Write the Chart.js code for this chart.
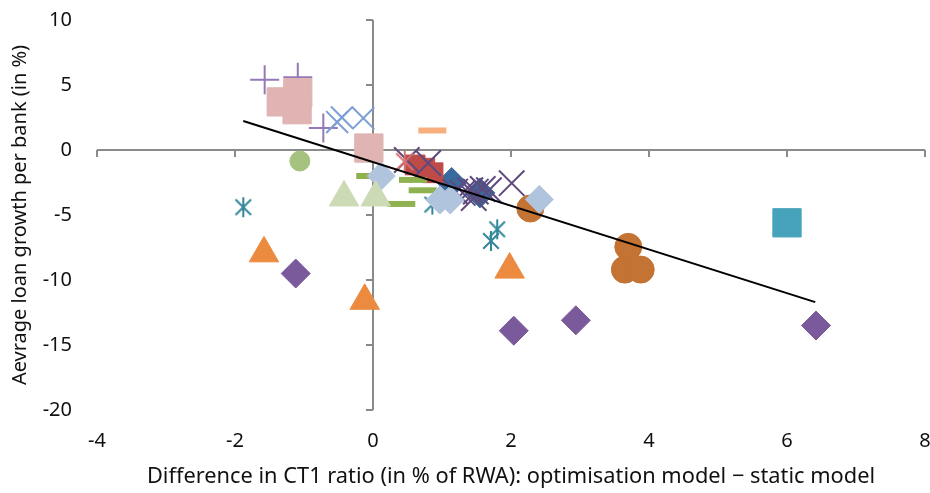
<!DOCTYPE html>
<html>
<head>
<meta charset="utf-8">
<script src="https://cdn.jsdelivr.net/npm/chart.js@4.4.1/dist/chart.umd.min.js"></script>
<style>
  html, body { margin: 0; padding: 0; background: #fff; }
  #wrap { width: 930px; height: 493px; }
</style>
</head>
<body>
<div id="wrap"><canvas id="scatter"></canvas></div>
<script>
  // bank-level points, one array per marker group: [CT1 difference, loan growth]
  const purplePlus = [[-1.57, 5.4], [-1.09, 5.6], [-0.72, 1.7]];
  const pinkSquares = [[-1.33, 3.7], [-1.09, 4.4], [-1.10, 3.1], [-0.06, 0.15]];
  const blueCrosses = [[-0.52, 2.15], [-0.45, 2.5], [-0.14, 2.45]];
  const orangeDash = [[0.86, 1.5]];
  const greenCircle = [[-1.06, -0.85]];
  const paleTriangles = [[-0.42, -3.65], [0.04, -3.65]];
  const greenDashes = [[-0.04, -2.0], [0.58, -2.3], [0.72, -3.1], [0.41, -4.15]];
  const paleDiamonds = [[0.12, -2.0], [0.97, -3.85], [1.12, -3.85], [2.41, -3.8]];
  const redSquares = [[0.61, -1.15], [0.75, -1.4], [0.87, -1.75]];
  const redStar = [[0.46, -0.9]];
  const darkCrosses = [[0.49, -0.77], [0.80, -1.0], [2.01, -2.55], [1.19, -3.2], [1.30, -3.3],
                       [1.41, -3.1], [1.49, -3.2], [1.59, -3.0], [1.68, -3.1], [1.46, -3.7]];
  const navyDiamonds = [[1.14, -2.5], [1.55, -3.3]];
  const tealStars = [[-1.88, -4.4], [0.86, -4.2], [1.80, -6.1], [1.71, -7.0]];
  const orangeTriangles = [[-1.58, -7.95], [-0.12, -11.6], [1.98, -9.2]];
  const purpleDiamonds = [[-1.12, -9.5], [2.04, -13.9], [2.94, -13.1], [6.42, -13.5]];
  const brownCircles = [[2.28, -4.5], [3.70, -7.45], [3.65, -9.2], [3.88, -9.2]];
  const tealSquare = [[6.0, -5.6]];
  const trendLine = [[-1.88, 2.23], [6.41, -11.7]];

  const xTicks = [-4, -2, 0, 2, 4, 6, 8];
  const yTicks = [-20, -15, -10, -5, 0, 5, 10];

  const axisColor = '#8a8a8a';
  const fontFamily = '"Noto Sans", "Open Sans", sans-serif';

  function toPoints(list) {
    return list.map(p => ({ x: p[0], y: p[1] }));
  }

  // six-armed asterisk marker
  function makeStar(color, size) {
    const c = document.createElement('canvas');
    c.width = size;
    c.height = size;
    const g = c.getContext('2d');
    g.strokeStyle = color;
    g.lineWidth = 2;
    const m = size / 2, r = size / 2 - 1, d = r * 0.78;
    g.beginPath();
    g.moveTo(m, m - r); g.lineTo(m, m + r);
    g.moveTo(m - d, m - d); g.lineTo(m + d, m + d);
    g.moveTo(m + d, m - d); g.lineTo(m - d, m + d);
    g.stroke();
    return c;
  }

  // marker groups, listed from bottom layer to top layer
  const groups = [
    { data: tealSquare, color: '#46a3bb', style: 'rect', r: 20 },
    { data: brownCircles, color: '#c37334', style: 'circle', r: 13.5 },
    { data: purpleDiamonds, color: '#7a5a9b', style: 'rectRot', r: 14.5 },
    { data: orangeTriangles, color: '#ec8b40', style: 'triangle', r: 17 },
    { data: tealStars, color: '#31869b', style: makeStar('#31869b', 22), r: 11 },
    { data: navyDiamonds, color: '#3a6a9c', style: 'rectRot', r: 15 },
    { data: redSquares, color: '#be4b48', style: 'rect', r: 14 },
    { data: darkCrosses, color: '#5f4a7e', style: 'crossRot', r: 18, line: 2 },
    { data: redStar, color: '#d9716e', style: makeStar('#d9716e', 24), r: 12 },
    { data: greenDashes, color: '#8eb24f', style: 'line', r: 14, line: 6 },
    { data: paleDiamonds, color: '#b0c4de', style: 'rectRot', r: 14 },
    { data: paleTriangles, color: '#ccdab5', style: 'triangle', r: 17 },
    { data: greenCircle, color: '#a5c37e', style: 'circle', r: 10 },
    { data: orangeDash, color: '#f9ae7e', style: 'line', r: 14, line: 6 },
    { data: purplePlus, color: '#9479b8', style: 'cross', r: 14.5, line: 2 },
    { data: blueCrosses, color: '#7b9fd4', style: 'crossRot', r: 15.5, line: 2 },
    { data: pinkSquares, color: '#e0b4b3', style: 'rect', r: 20 }
  ];

  const datasets = groups.map((g, i) => ({
    data: toPoints(g.data),
    pointStyle: g.style,
    pointRadius: g.r,
    pointHoverRadius: g.r,
    backgroundColor: g.color,
    borderColor: g.color,
    pointBorderWidth: g.line || 1,
    showLine: false,
    order: -i
  }));

  datasets.push({
    data: toPoints(trendLine),
    showLine: true,
    pointRadius: 0,
    borderColor: '#000',
    borderWidth: 2,
    order: -100
  });

  // axes cross at zero, ticks hang off the zero lines
  const crossAxes = {
    id: 'crossAxes',
    beforeDatasetsDraw(chart) {
      const { ctx, chartArea, scales: { x, y } } = chart;
      const x0 = Math.round(x.getPixelForValue(0));
      const y0 = Math.round(y.getPixelForValue(0));
      ctx.save();
      ctx.strokeStyle = axisColor;
      ctx.lineWidth = 2;
      ctx.beginPath();
      ctx.moveTo(chartArea.left, y0); ctx.lineTo(chartArea.right, y0);
      ctx.moveTo(x0, chartArea.top); ctx.lineTo(x0, chartArea.bottom);
      xTicks.forEach(v => {
        const px = Math.round(x.getPixelForValue(v));
        ctx.moveTo(px, y0); ctx.lineTo(px, y0 + 7);
      });
      yTicks.forEach(v => {
        const py = Math.round(y.getPixelForValue(v));
        ctx.moveTo(x0 - 7, py); ctx.lineTo(x0, py);
      });
      ctx.stroke();
      ctx.restore();
    }
  };

  new Chart(document.getElementById('scatter'), {
    type: 'scatter',
    data: { datasets },
    plugins: [crossAxes],
    options: {
      responsive: true,
      maintainAspectRatio: false,
      animation: false,
      layout: { autoPadding: false, padding: { left: 0, right: 5, top: 20, bottom: 0 } },
      plugins: { legend: { display: false }, tooltip: { enabled: false } },
      scales: {
        x: {
          type: 'linear',
          min: -4,
          max: 8,
          afterBuildTicks: s => { s.ticks = xTicks.map(v => ({ value: v })); },
          afterFit: s => { s.height = 83; s.paddingRight = 0; s.paddingLeft = 0; },
          border: { display: false },
          grid: { display: false, drawTicks: false },
          ticks: { color: '#111', padding: 19, font: { family: fontFamily, size: 20 } },
          title: {
            display: true,
            text: 'Difference in CT1 ratio (in % of RWA): optimisation model − static model',
            color: '#111',
            padding: { top: 0, bottom: 3 },
            font: { family: fontFamily, size: 21.8 }
          }
        },
        y: {
          type: 'linear',
          min: -20,
          max: 10,
          afterBuildTicks: s => { s.ticks = yTicks.map(v => ({ value: v })); },
          afterFit: s => { s.width = 97; s.paddingTop = 0; s.paddingBottom = 0; },
          border: { display: false },
          grid: { display: false, drawTicks: false },
          ticks: { color: '#111', padding: 25, font: { family: fontFamily, size: 20 } },
          title: {
            display: true,
            text: 'Aevrage loan growth per bank (in %)',
            color: '#111',
            padding: { top: 8, bottom: 0 },
            font: { family: fontFamily, size: 20 }
          }
        }
      }
    }
  });
</script>
</body>
</html>
